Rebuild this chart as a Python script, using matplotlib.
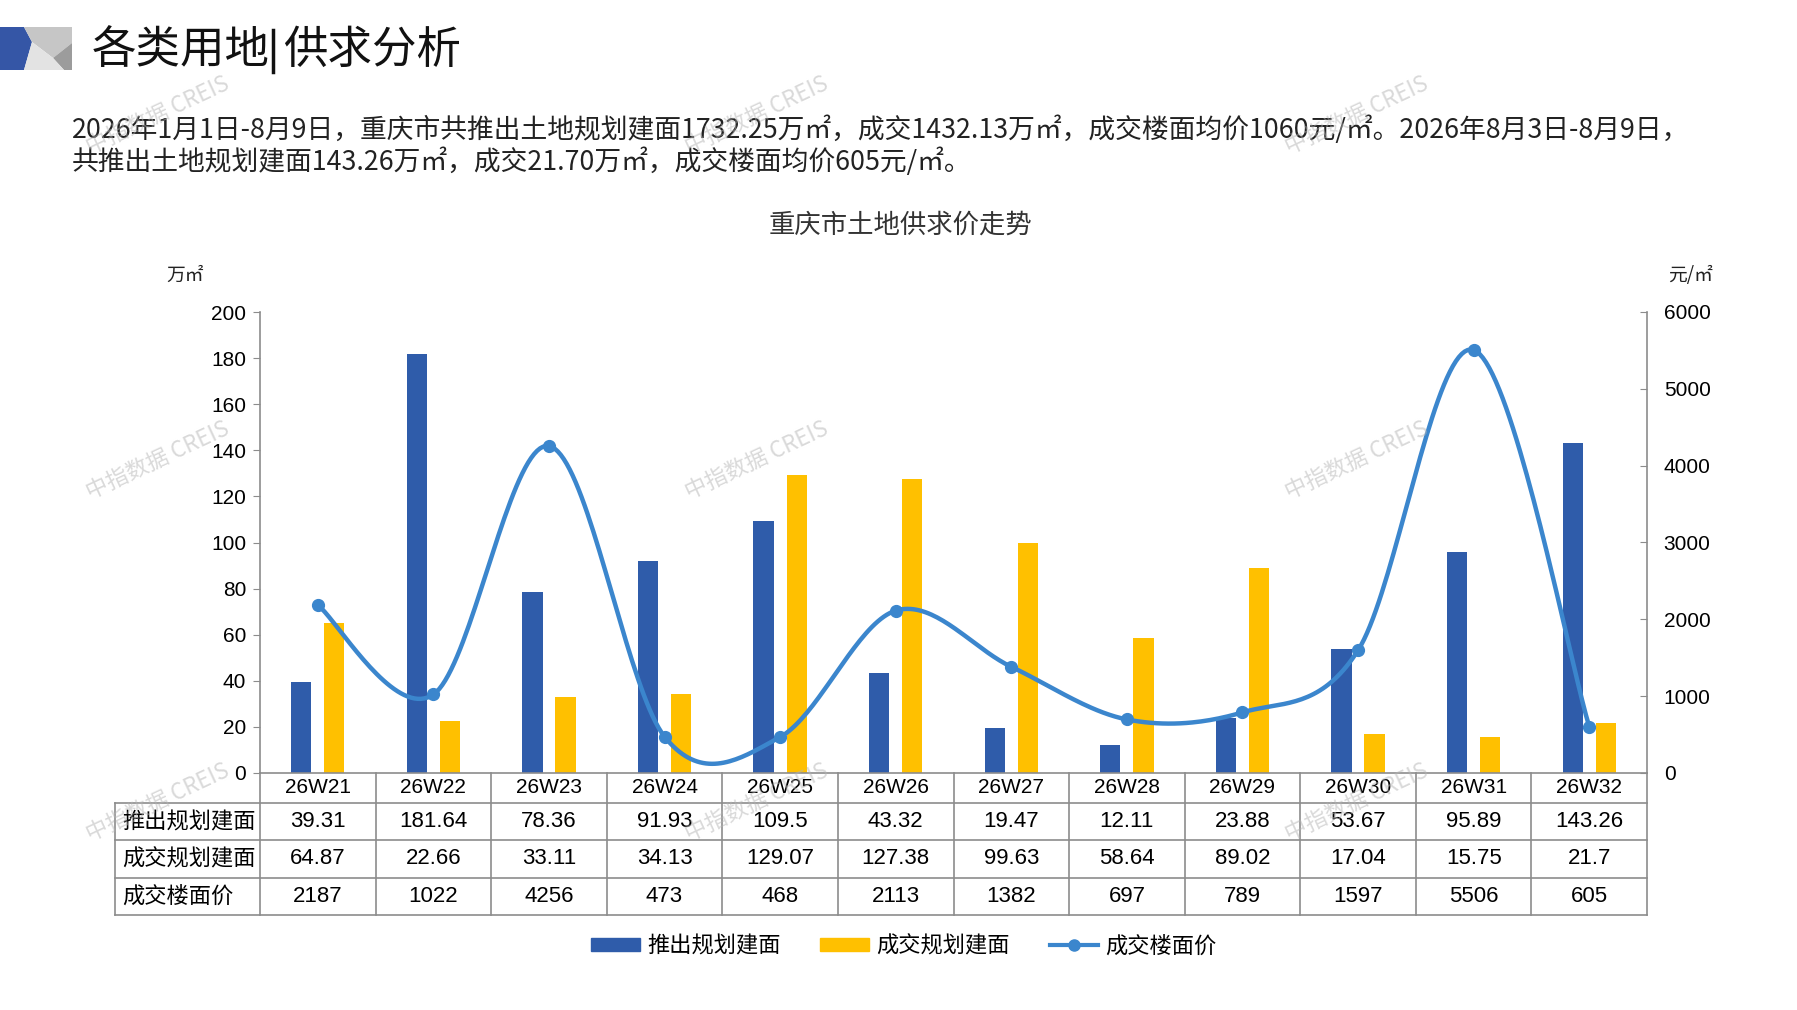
import matplotlib
matplotlib.use("Agg")
import matplotlib.pyplot as plt
import matplotlib.transforms as mtransforms
from matplotlib.patches import Polygon, Patch
from matplotlib.lines import Line2D
import numpy as np

plt.rcParams['font.family'] = ['Noto Sans CJK SC', 'DejaVu Sans']
NUM = ['Liberation Sans Narrow', 'Liberation Sans', 'Noto Sans CJK SC']

weeks = ["26W21", "26W22", "26W23", "26W24", "26W25", "26W26",
         "26W27", "26W28", "26W29", "26W30", "26W31", "26W32"]
supply = [39.31, 181.64, 78.36, 91.93, 109.5, 43.32, 19.47, 12.11, 23.88, 53.67, 95.89, 143.26]
deal = [64.87, 22.66, 33.11, 34.13, 129.07, 127.38, 99.63, 58.64, 89.02, 17.04, 15.75, 21.7]
price = [2187, 1022, 4256, 473, 468, 2113, 1382, 697, 789, 1597, 5506, 605]
row_names = ["推出规划建面", "成交规划建面", "成交楼面价"]

BLUE = "#2f5caa"
YELLOW = "#ffc000"
LINE = "#3b86cd"
GRAY = "#8c8c8c"

W, H = 1797, 1010


def smooth(xs, ys, n=40):
    # excel-like smoothed line: bezier with catmull-rom control points
    pts = np.column_stack([xs, ys]).astype(float)
    ext = np.vstack([pts[0], pts, pts[-1]])
    t = np.linspace(0, 1, n)[:, None]
    out = []
    for i in range(len(pts) - 1):
        p0, p3 = ext[i + 1], ext[i + 2]
        c1 = p0 + (ext[i + 2] - ext[i]) / 6
        c2 = p3 - (ext[i + 3] - ext[i + 1]) / 6
        seg = (1 - t) ** 3 * p0 + 3 * (1 - t) ** 2 * t * c1 + 3 * (1 - t) * t ** 2 * c2 + t ** 3 * p3
        out.append(seg if i == 0 else seg[1:])
    return np.vstack(out)


fig = plt.figure(figsize=(W / 100, H / 100), dpi=100)

# background layer in pixel coords
bg = fig.add_axes([0, 0, 1, 1], zorder=-1)
bg.set_xlim(0, W); bg.set_ylim(H, 0); bg.axis("off")

# logo
bg.add_patch(Polygon([(0, 27), (24, 27), (32, 42), (24, 70), (0, 70)], closed=True, color="#3556a6", lw=0))
bg.add_patch(Polygon([(24, 27), (72, 27), (72, 43), (53, 58), (32, 42)], closed=True, color="#c6c6c6", lw=0))
bg.add_patch(Polygon([(53, 58), (72, 43), (72, 70), (64, 70)], closed=True, color="#9c9c9c", lw=0))
bg.add_patch(Polygon([(32, 42), (53, 58), (64, 70), (24, 70)], closed=True, color="#e3e3e3", lw=0))

bg.text(92, 50, "各类用地", fontsize=32, va="center", ha="left", color="#111111")
bg.plot([273, 273], [30, 72], color="#111111", lw=2.5)
bg.text(283, 50, "供求分析", fontsize=32, va="center", ha="left", color="#111111")
bg.text(72, 130, "2026年1月1日-8月9日，重庆市共推出土地规划建面1732.25万㎡，成交1432.13万㎡，成交楼面均价1060元/㎡。2026年8月3日-8月9日，",
        fontsize=19.3, va="center", ha="left", color="#222222")
bg.text(72, 162, "共推出土地规划建面143.26万㎡，成交21.70万㎡，成交楼面均价605元/㎡。",
        fontsize=19.3, va="center", ha="left", color="#222222")
bg.text(900, 225, "重庆市土地供求价走势", fontsize=19, va="center", ha="center", color="#333333")
bg.text(185, 275, "万㎡", fontsize=13.5, va="center", ha="center", color="#222222")
bg.text(1691, 275, "元/㎡", fontsize=13.5, va="center", ha="center", color="#222222")

# main chart
ax = fig.add_axes([260 / W, 1 - 773 / H, (1647 - 260) / W, (773 - 312) / H])
x = np.arange(len(weeks))
ax.bar(x - 0.143, supply, 0.175, color=BLUE, zorder=2)
ax.bar(x + 0.143, deal, 0.175, color=YELLOW, zorder=2)
ax.set_xlim(-0.5, len(weeks) - 0.5)
ax.set_ylim(0, 200)
ax.set_yticks(np.arange(0, 201, 20))
ax.set_xticks([])
for s in ["top", "right"]:
    ax.spines[s].set_visible(False)
for s in ["left", "bottom"]:
    ax.spines[s].set_color(GRAY); ax.spines[s].set_linewidth(1.2)
ax.tick_params(axis="y", direction="out", length=5, color=GRAY, pad=5, labelsize=15)
for lab in ax.get_yticklabels():
    lab.set_fontfamily(NUM)

ax2 = ax.twinx()
ax2.set_ylim(0, 6000)
ax2.set_yticks(np.arange(0, 6001, 1000))
for s in ["top", "left", "bottom"]:
    ax2.spines[s].set_visible(False)
ax2.spines["right"].set_color(GRAY); ax2.spines["right"].set_linewidth(1.2)
ax2.tick_params(axis="y", direction="in", length=5, color=GRAY, pad=12, labelsize=15)
for lab in ax2.get_yticklabels():
    lab.set_fontfamily(NUM)
curve = smooth(x, price)
ax2.plot(curve[:, 0], curve[:, 1], color=LINE, lw=3.2, solid_capstyle="round", zorder=3)
ax2.plot(x, price, "o", color=LINE, ms=8.5, zorder=4)

# data table under the axes
tr = mtransforms.blended_transform_factory(ax.transData, ax.transAxes)
rows_y = [0, -0.065, -0.1453, -0.2267, -0.308]
lab_left = -0.5 - (260 - 115) / ((1647 - 260) / len(weeks))
right = len(weeks) - 0.5
kw = dict(transform=tr, color=GRAY, lw=1.2, clip_on=False)
for yy in rows_y[1:]:
    ax.plot([lab_left, right], [yy, yy], **kw)
ax.plot([lab_left, lab_left], [rows_y[1], rows_y[-1]], **kw)
for k in range(len(weeks) + 1):
    ax.plot([k - 0.5, k - 0.5], [0, rows_y[-1]], **kw)

table_rows = [[f"{v:g}" for v in supply], [f"{v:g}" for v in deal], [str(v) for v in price]]
ymid = [(rows_y[i] + rows_y[i + 1]) / 2 for i in range(4)]
for i, w in enumerate(weeks):
    ax.text(i, ymid[0], w, transform=tr, ha="center", va="center", fontsize=15, family=NUM, clip_on=False)
    for r in range(3):
        ax.text(i, ymid[r + 1], table_rows[r][i], transform=tr, ha="center", va="center",
                fontsize=16, family=NUM, clip_on=False)
for r in range(3):
    ax.text(lab_left + 0.06, ymid[r + 1], row_names[r], transform=tr, ha="left", va="center",
            fontsize=16, clip_on=False)

handles = [Patch(color=BLUE), Patch(color=YELLOW),
           Line2D([], [], color=LINE, lw=3, marker="o", ms=8)]
fig.legend(handles, row_names, loc="center", bbox_to_anchor=(0.503, 1 - 946 / H), ncol=3,
           frameon=False, fontsize=16, handlelength=2.2, handleheight=0.5,
           handletextpad=0.3, columnspacing=1.8)

# watermarks
wm = fig.add_axes([0, 0, 1, 1], zorder=20)
wm.set_xlim(0, W); wm.set_ylim(H, 0); wm.axis("off"); wm.patch.set_alpha(0)
for cx in [158, 757, 1357]:
    for cy in [115, 460, 802]:
        wm.text(cx, cy, "中指数据 CREIS", rotation=25, fontsize=16, color="#b4b4b4", alpha=0.5,
                ha="center", va="center", family=['Noto Sans CJK SC', 'DejaVu Sans'])

fig.savefig("out.png", dpi=100)
